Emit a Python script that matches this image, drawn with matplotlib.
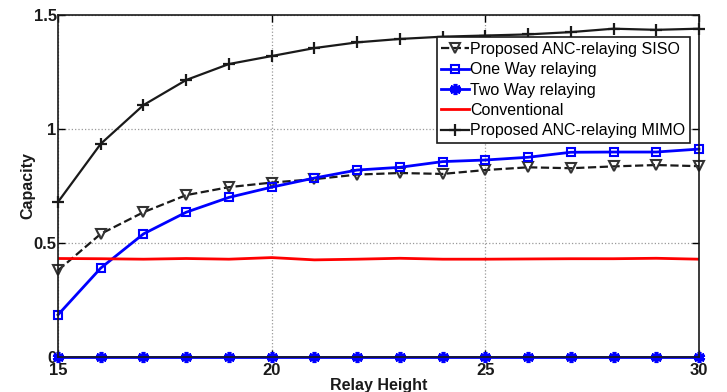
import matplotlib
matplotlib.use('Agg')
import matplotlib.pyplot as plt
import numpy as np

plt.rcParams['font.family'] = ['Liberation Sans', 'DejaVu Sans']

height = list(range(15, 31))
siso = [0.38, 0.54, 0.635, 0.71, 0.745, 0.765, 0.78, 0.80, 0.807, 0.803,
        0.82, 0.832, 0.828, 0.836, 0.842, 0.837]
one_way = [0.185, 0.39, 0.54, 0.635, 0.70, 0.745, 0.785, 0.82, 0.832, 0.857,
           0.864, 0.876, 0.898, 0.899, 0.899, 0.912]
two_way = [0.0] * 16
conventional = [0.432, 0.431, 0.429, 0.432, 0.429, 0.436, 0.426, 0.429, 0.433,
                0.429, 0.429, 0.430, 0.431, 0.431, 0.433, 0.429]
mimo = [0.68, 0.935, 1.105, 1.215, 1.285, 1.32, 1.355, 1.38, 1.395, 1.405,
        1.41, 1.415, 1.425, 1.44, 1.435, 1.44]

fig = plt.figure(figsize=(7.27, 3.92), dpi=100)
ax = fig.add_axes([0.0798, 0.0893, 0.8817, 0.8724])

ax.plot(height, siso, '--', color='#1a1a1a', marker='v', mfc='none', mec='#333333',
        ms=7.5, mew=1.5, lw=1.6, clip_on=False, label='Proposed ANC-relaying SISO')
ax.plot(height, one_way, color='#0000ff', marker='s', mfc='none', ms=6,
        mew=1.5, lw=2, clip_on=False, label='One Way relaying')
ax.plot(height, two_way, color='#0000ff', marker=(6, 2, 0), ms=8, mew=2.6, lw=2,
        clip_on=False, label='Two Way relaying')
ax.plot(height, conventional, color='#ff0000', lw=2, label='Conventional')
ax.plot(height, mimo, color='#1a1a1a', marker='+', ms=9, mew=1.6, lw=1.6,
        clip_on=False, label='Proposed ANC-relaying MIMO')

ax.set_xlim(15, 30)
ax.set_ylim(0, 1.5)
ax.set_xticks([15, 20, 25, 30])
ax.set_yticks([0, 0.5, 1, 1.5])
ax.set_yticklabels(['0', '0.5', '1', '1.5'])
for lab in ax.get_xticklabels() + ax.get_yticklabels():
    lab.set_fontweight('bold')
    lab.set_fontsize(12)
    lab.set_color('#1a1a1a')
ax.tick_params(direction='in', length=5, width=1, top=True, right=True)
ax.tick_params(axis='x', pad=4)
ax.tick_params(axis='y', pad=1)
ax.grid(True, linestyle=':', color='#999999', lw=0.9)
for s in ax.spines.values():
    s.set_linewidth(1.2)
    s.set_color('#1a1a1a')

ax.set_xlabel('Relay Height', fontsize=11.5, fontweight='bold', labelpad=0,
              color='#1a1a1a')
ax.set_ylabel('Capacity', fontsize=11.5, fontweight='bold', labelpad=-1,
              color='#1a1a1a')

leg = ax.legend(loc='upper right', bbox_to_anchor=(0.986, 0.935), fontsize=11.5,
                handlelength=1.7, handletextpad=0.1, labelspacing=0.33,
                borderpad=0.3, borderaxespad=0, fancybox=False, framealpha=1,
                edgecolor='#1a1a1a')
leg.get_frame().set_linewidth(1.2)

fig.savefig('out.png', dpi=100)
